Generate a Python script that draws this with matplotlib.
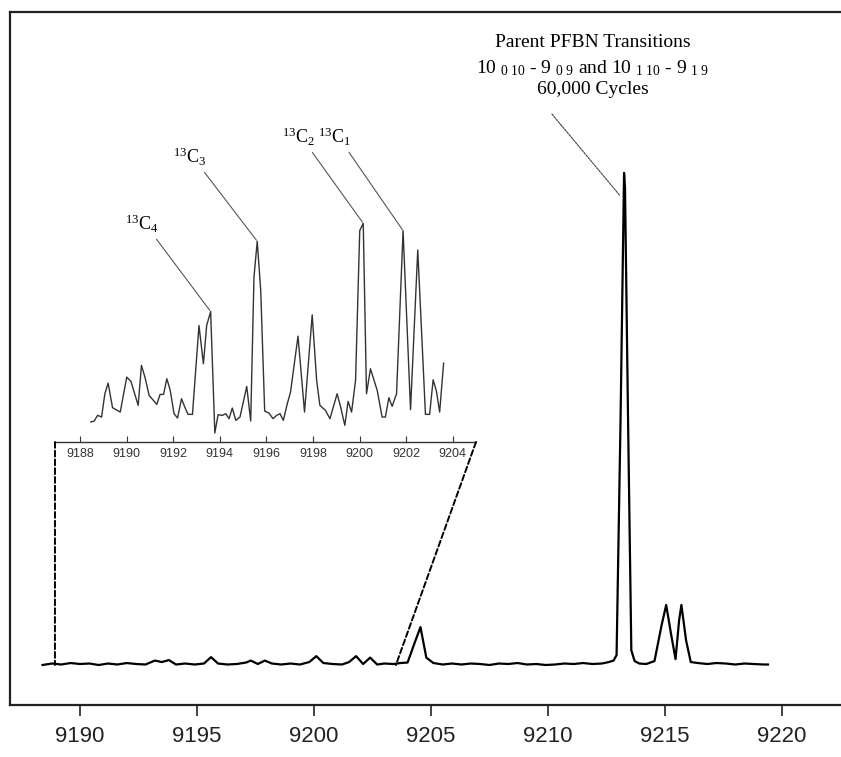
import matplotlib
matplotlib.use("Agg")
import matplotlib.pyplot as plt
from matplotlib.patches import ConnectionPatch

plt.rcParams["font.family"] = ["Liberation Serif", "DejaVu Serif"]
plt.rcParams["mathtext.fontset"] = "custom"
plt.rcParams["mathtext.rm"] = "Liberation Serif"
plt.rcParams["mathtext.it"] = "Liberation Serif:italic"

# main spectrum (frequency in MHz, intensity in % of strongest peak)
FREQ = [9188.4, 9188.8, 9189.2, 9189.6, 9190.0, 9190.4, 9190.8, 9191.2, 9191.6,
        9192.0, 9192.4, 9192.8, 9193.2, 9193.5, 9193.8, 9194.1, 9194.5, 9194.9,
        9195.3, 9195.6, 9195.9, 9196.3, 9196.7, 9197.1, 9197.3, 9197.6, 9197.9,
        9198.2, 9198.6, 9199.0, 9199.4, 9199.8, 9200.1, 9200.4, 9200.8, 9201.2,
        9201.5, 9201.8, 9202.1, 9202.4, 9202.7, 9203.0, 9203.4, 9203.7, 9204.0,
        9204.3, 9204.55, 9204.8, 9205.1, 9205.5, 9205.9, 9206.3, 9206.7, 9207.1,
        9207.5, 9207.9, 9208.3, 9208.7, 9209.1, 9209.5, 9209.9, 9210.3, 9210.7,
        9211.1, 9211.5, 9211.9, 9212.3, 9212.6, 9212.8, 9212.93, 9213.1, 9213.25,
        9213.29, 9213.42, 9213.56, 9213.7, 9213.9, 9214.2, 9214.55, 9214.85,
        9215.05, 9215.25, 9215.45, 9215.6, 9215.7, 9215.9, 9216.1, 9216.4,
        9216.8, 9217.2, 9217.6, 9218.0, 9218.4, 9218.8, 9219.2, 9219.4]
INTENSITY = [0.0, 0.3, 0.1, 0.4, 0.2, 0.3, 0.0, 0.3, 0.1,
             0.4, 0.2, 0.1, 0.9, 0.6, 1.0, 0.1, 0.3, 0.1,
             0.3, 1.6, 0.3, 0.1, 0.2, 0.5, 0.9, 0.2, 0.9,
             0.3, 0.1, 0.3, 0.1, 0.6, 1.8, 0.4, 0.2, 0.1,
             0.6, 1.8, 0.2, 1.5, 0.1, 0.3, 0.2, 0.4, 0.5,
             4.5, 7.7, 1.5, 0.4, 0.1, 0.3, 0.1, 0.3, 0.2,
             0.0, 0.3, 0.2, 0.4, 0.1, 0.2, 0.0, 0.1, 0.3,
             0.2, 0.4, 0.2, 0.3, 0.6, 0.9, 2.0, 50.0, 100.0,
             97.0, 50.0, 3.0, 0.8, 0.3, 0.2, 0.8, 8.0,
             12.2, 6.5, 1.2, 9.0, 12.2, 5.0, 0.6, 0.4,
             0.2, 0.4, 0.3, 0.1, 0.3, 0.2, 0.1, 0.1]

# expanded view of the 13C isotopologue region
INSET_FREQ = [9188.47, 9188.61, 9188.76, 9188.93, 9189.07, 9189.21, 9189.40, 9189.73,
              9190.01, 9190.19, 9190.50, 9190.64, 9190.79, 9190.97, 9191.30, 9191.44,
              9191.59, 9191.73, 9191.87, 9192.04, 9192.19, 9192.36, 9192.50, 9192.64,
              9192.83, 9193.11, 9193.30, 9193.44, 9193.61, 9193.79, 9193.93, 9194.11,
              9194.26, 9194.40, 9194.54, 9194.69, 9194.87, 9195.16, 9195.33, 9195.47,
              9195.61, 9195.76, 9195.93, 9196.11, 9196.29, 9196.44, 9196.59, 9196.73,
              9196.90, 9197.04, 9197.36, 9197.64, 9197.97, 9198.16, 9198.30, 9198.54,
              9198.73, 9199.04, 9199.19, 9199.37, 9199.51, 9199.66, 9199.83, 9200.01,
              9200.16, 9200.30, 9200.47, 9200.76, 9200.97, 9201.11, 9201.26, 9201.40,
              9201.59, 9201.87, 9202.19, 9202.50, 9202.83, 9203.01, 9203.16, 9203.30,
              9203.44, 9203.61]
INSET_INT = [6.0, 6.3, 8.0, 7.5, 14.5, 17.7, 10.3, 9.0,
             19.5, 18.2, 11.0, 23.0, 19.5, 14.0, 11.3, 14.3,
             14.3, 19.0, 15.7, 8.5, 7.2, 13.0, 10.5, 8.3,
             8.3, 35.0, 23.5, 35.0, 39.2, 2.7, 8.2, 8.0,
             8.5, 7.0, 10.2, 6.5, 7.5, 16.7, 6.3, 49.5,
             60.3, 45.5, 9.3, 8.7, 7.0, 8.0, 8.5, 6.5,
             11.5, 15.0, 31.8, 9.0, 38.2, 18.5, 11.0, 9.5,
             7.0, 14.5, 10.5, 5.0, 12.2, 9.0, 18.5, 63.5,
             65.7, 14.5, 22.0, 15.5, 7.5, 7.5, 13.3, 10.7,
             14.5, 63.5, 9.7, 57.7, 8.3, 8.3, 18.7, 15.3,
             9.0, 23.7]

MAIN_TICKS = [9190, 9195, 9200, 9205, 9210, 9215, 9220]
INSET_TICKS = [9188, 9190, 9192, 9194, 9196, 9198, 9200, 9202, 9204]

# isotopologue labels: (text, peak index in inset arrays, label position)
ISO_LABELS = [("$^{13}$C$_4$", 28, (9190.66, 65.4)),
              ("$^{13}$C$_3$", 40, (9192.72, 85.5)),
              ("$^{13}$C$_2$", 64, (9197.36, 91.5)),
              ("$^{13}$C$_1$", 73, (9198.94, 91.5))]

ZOOM_LO, ZOOM_HI = 9188.93, 9203.5

fig = plt.figure(figsize=(8.41, 7.57), dpi=100)
ax = fig.add_axes([10 / 841, 52 / 757, 831 / 841, 693 / 757])
ax.plot(FREQ, INTENSITY, color="black", lw=1.6)
ax.set_xlim(9187.01, 9222.52)
ax.set_ylim(-8.13, 132.7)
ax.set_yticks([])
ax.set_xticks(MAIN_TICKS)
ax.set_xticklabels([str(t) for t in MAIN_TICKS], family="Liberation Sans", fontsize=16)
ax.tick_params(axis="x", direction="out", length=8, width=1.2, pad=7, colors="#222")
ax.spines["right"].set_visible(False)
for s in ("left", "top", "bottom"):
    ax.spines[s].set_linewidth(1.6)
    ax.spines[s].set_color("#222")

# parent transition label
ax.text(9211.9, 126.6, "Parent PFBN Transitions", ha="center", va="center", fontsize=14)
ax.text(9211.9, 121.3,
        "10 $_{0\\ 10}$ - 9 $_{0\\ 9}$ and 10 $_{1\\ 10}$ - 9 $_{1\\ 9}$",
        ha="center", va="center", fontsize=14)
ax.text(9211.9, 116.9, "60,000 Cycles", ha="center", va="center", fontsize=14)
ax.annotate("", xy=(9213.16, 94.9), xytext=(9210.09, 112.4),
            arrowprops=dict(arrowstyle="-", color="#444", lw=0.8, ls=(0, (2, 1))))

# inset
axi = fig.add_axes([55 / 841, 315 / 757, 421 / 841, 233 / 757])
axi.plot(INSET_FREQ, INSET_INT, color="#333", lw=1.0)
axi.set_xlim(9186.93, 9205.0)
axi.set_ylim(0, 70)
axi.set_yticks([])
axi.set_xticks(INSET_TICKS)
axi.set_xticklabels([str(t) for t in INSET_TICKS], family="Liberation Sans", fontsize=9)
axi.tick_params(axis="x", direction="in", length=4, width=0.8, pad=4, colors="#333")
axi.patch.set_alpha(0)
for s in ("left", "top", "right"):
    axi.spines[s].set_visible(False)
axi.spines["bottom"].set_linewidth(1.0)
axi.spines["bottom"].set_color("#333")

for text, i, pos in ISO_LABELS:
    axi.annotate(text, xy=(INSET_FREQ[i], INSET_INT[i]), xytext=pos,
                 ha="center", va="center", fontsize=13, annotation_clip=False,
                 arrowprops=dict(arrowstyle="-", color="#555", lw=0.8,
                                 relpos=(0.85, 0.0), shrinkA=1, shrinkB=1))

for corner, x in ((0, ZOOM_LO), (1, ZOOM_HI)):
    con = ConnectionPatch(xyA=(corner, 0), coordsA=axi.transAxes,
                          xyB=(x, 0), coordsB=ax.transData,
                          color="black", lw=1.4, ls=(0, (3, 1.5)))
    fig.add_artist(con)

fig.savefig("out.png", dpi=100)
